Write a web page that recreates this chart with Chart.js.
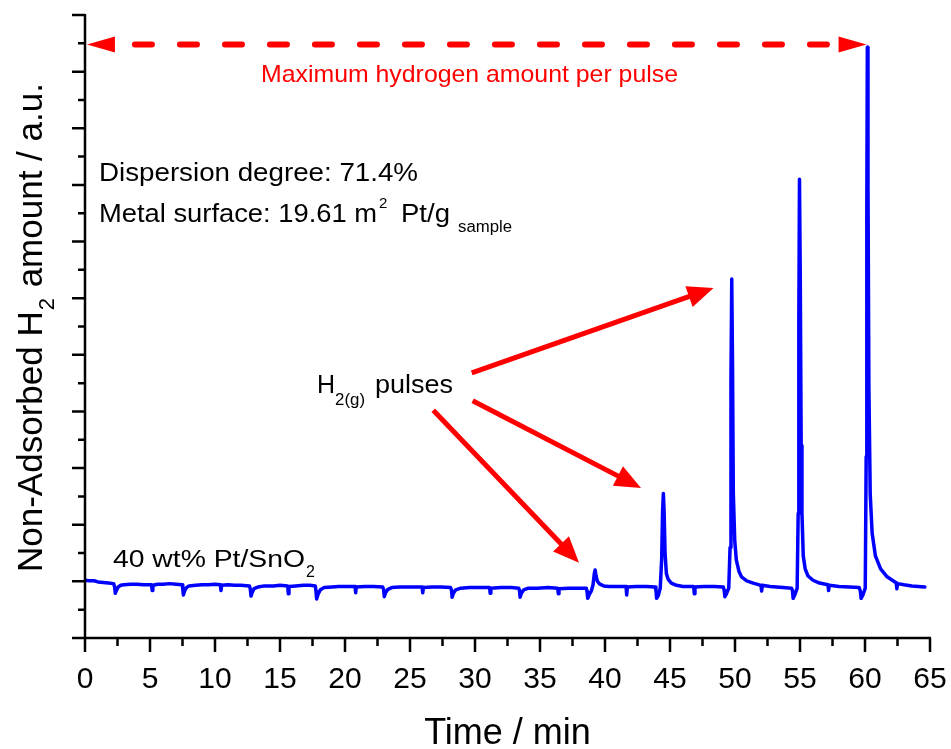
<!DOCTYPE html>
<html><head><meta charset="utf-8">
<script src="https://cdn.jsdelivr.net/npm/chart.js@4.4.1/dist/chart.umd.min.js"></script>
<style>html,body{margin:0;padding:0;background:#fff;} #wrap{width:951px;height:749px;position:relative;background:#fff;}</style>
</head><body><div id="wrap"><canvas id="c" width="951" height="749"></canvas></div>
<script>
// ---- data ----
const timeMin = [
  0.00,0.30,0.70,1.00,1.40,1.80,2.20,2.28,2.33,2.42,2.55,2.75,3.00,
  3.50,4.00,4.50,5.12,5.17,5.22,5.60,6.00,6.50,7.00,
  7.47,7.52,7.57,7.66,7.80,8.00,8.50,9.00,9.50,10.00,
  10.41,10.46,10.51,11.00,11.50,12.00,
  12.65,12.72,12.77,12.87,13.00,13.30,13.80,14.50,15.00,
  15.59,15.64,15.69,16.20,16.80,17.30,
  17.72,17.77,17.82,17.94,18.10,18.40,19.00,19.50,20.20,
  20.77,20.82,20.87,21.50,22.20,22.90,
  22.97,23.02,23.12,23.30,23.60,24.20,25.00,
  25.93,25.98,26.03,26.70,27.40,
  28.12,28.19,28.24,28.34,28.52,28.90,29.60,30.30,
  31.12,31.17,31.22,32.00,32.80,
  33.36,33.42,33.47,33.57,33.75,34.10,34.80,35.60,
  36.36,36.41,36.46,37.20,38.00,
  38.56,38.62,38.67,38.78,38.95,39.08,39.18,39.24,39.31,39.42,39.60,39.90,40.30,41.00,
  41.62,41.67,41.72,42.40,43.20,
  43.85,43.92,43.97,44.10,44.25,44.36,44.43,44.49,44.55,44.62,44.72,44.85,45.10,45.50,46.00,
  46.82,46.87,46.92,47.60,48.40,
  49.10,49.17,49.22,49.34,49.52,49.62,49.69,49.75,49.81,49.87,49.98,50.10,50.30,50.50,50.90,51.40,
  52.00,52.05,52.10,52.70,53.70,
  54.35,54.42,54.47,54.60,54.78,54.86,54.91,54.96,55.02,55.09,55.15,55.25,55.40,55.60,56.00,56.50,
  57.15,57.20,57.25,58.00,58.80,
  59.55,59.64,59.70,59.84,60.02,60.09,60.14,60.18,60.23,60.30,60.40,60.55,60.80,61.20,61.70,62.30,
  62.40,62.45,62.50,63.00,63.60,64.10,64.60
];
const signal = [
  0.02,0.01,0.01,-0.01,-0.02,-0.03,-0.04,-0.10,-0.21,-0.16,-0.10,-0.07,-0.06,
  -0.05,-0.05,-0.06,-0.06,-0.16,-0.07,-0.05,-0.05,-0.04,-0.05,
  -0.06,-0.13,-0.24,-0.17,-0.11,-0.08,-0.07,-0.06,-0.06,-0.05,
  -0.06,-0.16,-0.07,-0.06,-0.07,-0.07,
  -0.08,-0.14,-0.26,-0.19,-0.13,-0.10,-0.08,-0.08,-0.07,
  -0.08,-0.22,-0.09,-0.08,-0.07,-0.07,
  -0.08,-0.18,-0.31,-0.22,-0.15,-0.11,-0.10,-0.09,-0.09,
  -0.09,-0.20,-0.10,-0.09,-0.09,-0.10,
  -0.14,-0.27,-0.20,-0.14,-0.11,-0.10,-0.10,
  -0.10,-0.20,-0.11,-0.10,-0.10,
  -0.11,-0.15,-0.28,-0.21,-0.15,-0.12,-0.11,-0.11,
  -0.11,-0.21,-0.12,-0.11,-0.11,
  -0.12,-0.16,-0.28,-0.21,-0.15,-0.12,-0.12,-0.11,
  -0.12,-0.22,-0.13,-0.12,-0.12,
  -0.12,-0.18,-0.30,-0.24,-0.17,-0.06,0.14,0.20,0.10,0.00,-0.05,-0.08,-0.09,-0.09,
  -0.09,-0.24,-0.10,-0.09,-0.09,
  -0.10,-0.16,-0.30,-0.25,-0.12,0.40,1.25,1.55,1.20,0.50,0.14,0.04,-0.03,-0.07,-0.09,
  -0.09,-0.22,-0.10,-0.09,-0.09,
  -0.10,-0.16,-0.27,-0.22,-0.12,0.60,3.60,5.34,3.80,1.56,0.72,0.38,0.18,0.08,0.01,-0.03,
  -0.07,-0.17,-0.07,-0.09,-0.11,
  -0.12,-0.16,-0.30,-0.24,-0.12,1.20,4.60,7.10,5.40,2.40,1.20,0.45,0.22,0.10,0.02,-0.03,
  -0.06,-0.16,-0.07,-0.09,-0.10,
  -0.11,-0.17,-0.30,-0.24,-0.12,2.20,6.60,9.43,7.00,3.40,1.55,0.85,0.45,0.22,0.08,-0.01,
  -0.03,-0.13,-0.04,-0.06,-0.08,-0.09,-0.10
];
const xTickValues = [0,5,10,15,20,25,30,35,40,45,50,55,60,65];
const xMinorTicks = [2.5,7.5,12.5,17.5,22.5,27.5,32.5,37.5,42.5,47.5,52.5,57.5,62.5];
const yMajorTicks = [-1,0,1,2,3,4,5,6,7,8,9,10];
const yMinorTicks = [-0.5,0.5,1.5,2.5,3.5,4.5,5.5,6.5,7.5,8.5,9.5];
const xRange = [0, 65];
const yRange = [-1, 10];

// annotation anchors in data units
const maxArrow = {x1: 0.15, x2: 60.12, y: 9.48};
const pulseArrows = [
  {x1: 29.75, y1: 3.68, x2: 48.35, y2: 5.18},
  {x1: 29.82, y1: 3.19, x2: 42.77, y2: 1.65},
  {x1: 26.79, y1: 3.02, x2: 38.00, y2: 0.33}
];

const FONT = '"Liberation Sans", Arial, Helvetica, sans-serif';
const RED = '#FF0000';

function run(ctx, text, x, y, size, color, width) {
  ctx.font = size + 'px ' + FONT;
  const w = ctx.measureText(text).width;
  const sx = width ? width / w : 1;
  ctx.save();
  ctx.translate(x, y);
  ctx.scale(sx, 1);
  ctx.fillStyle = color;
  ctx.textAlign = 'left';
  ctx.textBaseline = 'alphabetic';
  ctx.fillText(text, 0, 0);
  ctx.restore();
  return x + w * sx;
}

function solidArrow(ctx, x1, y1, x2, y2, lw, hl, hw, color) {
  const a = Math.atan2(y2 - y1, x2 - x1);
  const bx = x2 - hl * Math.cos(a), by = y2 - hl * Math.sin(a);
  ctx.save();
  ctx.strokeStyle = color; ctx.fillStyle = color;
  ctx.lineWidth = lw; ctx.lineCap = 'butt';
  ctx.beginPath(); ctx.moveTo(x1, y1); ctx.lineTo(bx + Math.cos(a) * 2, by + Math.sin(a) * 2); ctx.stroke();
  ctx.beginPath();
  ctx.moveTo(x2, y2);
  ctx.lineTo(bx + hw * Math.sin(a), by - hw * Math.cos(a));
  ctx.lineTo(bx - hw * Math.sin(a), by + hw * Math.cos(a));
  ctx.closePath(); ctx.fill();
  ctx.restore();
}

const decor = {
  id: 'decor',
  afterDraw(chart) {
    const ctx = chart.ctx, xs = chart.scales.x, ys = chart.scales.y, A = chart.chartArea;
    ctx.save();
    // axes
    ctx.strokeStyle = '#000'; ctx.lineWidth = 2.5; ctx.lineCap = 'butt';
    ctx.beginPath();
    ctx.moveTo(A.left, A.bottom + 1); ctx.lineTo(A.left, A.top - 1);
    ctx.moveTo(A.left - 1, A.bottom); ctx.lineTo(A.right + 1, A.bottom);
    xTickValues.forEach(v => { const p = xs.getPixelForValue(v); ctx.moveTo(p, A.bottom); ctx.lineTo(p, A.bottom + 14); });
    xMinorTicks.forEach(v => { const p = xs.getPixelForValue(v); ctx.moveTo(p, A.bottom); ctx.lineTo(p, A.bottom + 8); });
    yMajorTicks.forEach(v => { const p = ys.getPixelForValue(v); ctx.moveTo(A.left, p); ctx.lineTo(A.left - 13, p); });
    yMinorTicks.forEach(v => { const p = ys.getPixelForValue(v); ctx.moveTo(A.left, p); ctx.lineTo(A.left - 7, p); });
    ctx.stroke();

    // axis titles
    ctx.fillStyle = '#000';
    ctx.font = '36px ' + FONT; ctx.textAlign = 'center'; ctx.textBaseline = 'alphabetic';
    ctx.fillText('Time / min', (A.left + A.right) / 2, 744);
    ctx.save();
    ctx.translate(42, 572); ctx.rotate(-Math.PI / 2);
    let px = run(ctx, 'Non-Adsorbed H', 0, 0, 35, '#000');
    px = run(ctx, '2', px + 1, 12, 22, '#000');
    run(ctx, ' amount / a.u.', px + 1, 0, 35, '#000');
    ctx.restore();

    // dashed double arrow
    const yA = ys.getPixelForValue(maxArrow.y);
    const xl = xs.getPixelForValue(maxArrow.x1), xr = xs.getPixelForValue(maxArrow.x2);
    ctx.save();
    ctx.strokeStyle = RED; ctx.fillStyle = RED; ctx.lineWidth = 6; ctx.lineCap = 'round';
    ctx.setLineDash([17, 28]);
    ctx.beginPath(); ctx.moveTo(xl + 48, yA); ctx.lineTo(xr - 32, yA); ctx.stroke();
    ctx.setLineDash([]);
    ctx.beginPath(); ctx.moveTo(xl, yA); ctx.lineTo(xl + 28, yA - 8); ctx.lineTo(xl + 28, yA + 8); ctx.closePath(); ctx.fill();
    ctx.beginPath(); ctx.moveTo(xr, yA); ctx.lineTo(xr - 28, yA - 8); ctx.lineTo(xr - 28, yA + 8); ctx.closePath(); ctx.fill();
    ctx.restore();

    // pulse arrows
    pulseArrows.forEach(a => solidArrow(ctx, xs.getPixelForValue(a.x1), ys.getPixelForValue(a.y1),
      xs.getPixelForValue(a.x2), ys.getPixelForValue(a.y2), 5, 26, 11, RED));

    // texts
    run(ctx, 'Maximum hydrogen amount per pulse', 261, 82, 24, RED, 417);
    run(ctx, 'Dispersion degree: 71.4%', 99, 181, 25, '#000', 319);
    run(ctx, 'Metal surface: 19.61 m', 99, 222, 25, '#000', 278);
    run(ctx, '2', 379, 208, 15, '#000');
    run(ctx, 'Pt/g', 401, 222, 25, '#000', 49);
    run(ctx, 'sample', 458, 232, 16, '#000', 54);
    run(ctx, 'H', 317, 393, 25, '#000');
    run(ctx, '2(g)', 335, 405, 16, '#000', 30);
    run(ctx, 'pulses', 375, 393, 25, '#000', 78);
    let e = run(ctx, '40 wt% Pt/SnO', 113, 567, 23, '#000', 192);
    run(ctx, '2', e + 1, 577, 16, '#000');
    ctx.restore();
  }
};

new Chart(document.getElementById('c'), {
  type: 'scatter',
  data: { datasets: [{
    data: timeMin.map((t, i) => ({ x: t, y: signal[i] })),
    showLine: true, borderColor: '#0000FF', borderWidth: 3.5, pointRadius: 0, pointHoverRadius: 0,
    tension: 0, fill: false, borderJoinStyle: 'round', borderCapStyle: 'round'
  }] },
  options: {
    responsive: false, animation: false, devicePixelRatio: 1, events: [],
    layout: { padding: { top: 15, right: 0, left: 0, bottom: 0 } },
    plugins: { legend: { display: false }, tooltip: { enabled: false } },
    scales: {
      x: {
        type: 'linear', min: xRange[0], max: xRange[1],
        afterBuildTicks(s) { s.ticks = xTickValues.map(v => ({ value: v })); },
        afterFit(s) { s.height = 111; s.paddingRight = 21; s.paddingLeft = 0; },
        grid: { display: false, drawTicks: false }, border: { display: false },
        ticks: { font: { family: FONT, size: 30 }, color: '#000', padding: 24, maxRotation: 0, autoSkip: false }
      },
      y: {
        type: 'linear', min: yRange[0], max: yRange[1],
        afterFit(s) { s.width = 85; },
        grid: { display: false, drawTicks: false }, border: { display: false },
        ticks: { display: false }
      }
    }
  },
  plugins: [decor]
});
</script></body></html>
